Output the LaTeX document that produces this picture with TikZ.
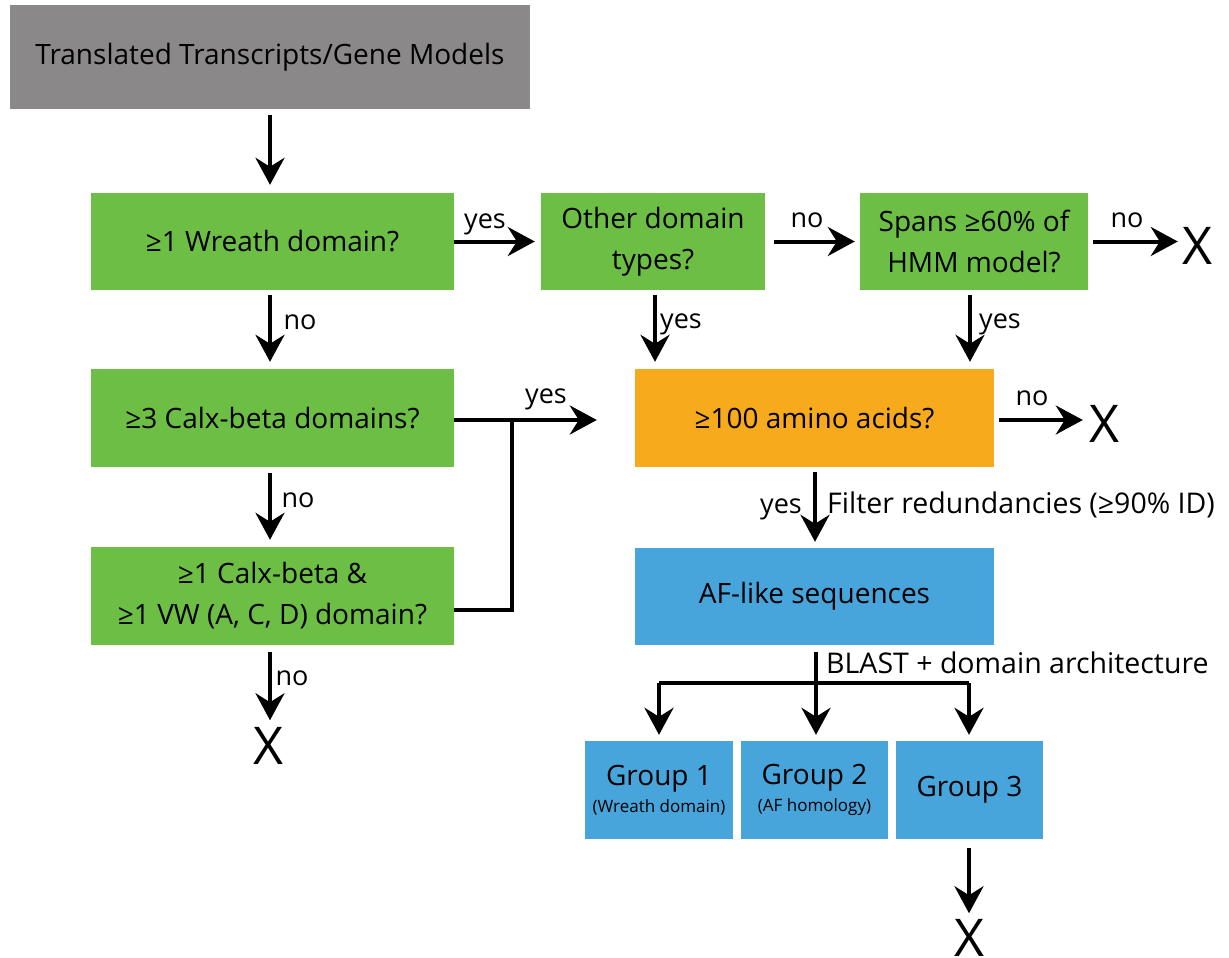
\documentclass[tikz,border=0pt]{standalone}
\usepackage{fontspec}
\setmainfont{Open Sans}
\usetikzlibrary{arrows.meta}
\definecolor{cgray}{RGB}{138,136,136}
\definecolor{cgreen}{RGB}{108,190,69}
\definecolor{corange}{RGB}{246,170,28}
\definecolor{cblue}{RGB}{72,165,219}
\begin{document}
\begin{tikzpicture}[x=1pt,y=-1pt,
  box/.style={inner sep=0pt, draw=none, align=center, font=\fontsize{28}{41}\selectfont},
  grn/.style={box, fill=cgreen},
  lbl/.style={inner sep=0pt, anchor=base, font=\fontsize{27}{30}\selectfont},
  xnode/.style={inner sep=0pt, font=\fontsize{52}{52}\selectfont},
  arr/.style={line width=4pt, -{Stealth[length=27pt,width=29pt,inset=9pt]}},
  ln/.style={line width=4pt}]
\useasboundingbox (0,0) rectangle (1229,958);
% boxes
\node[box, fill=cgray, minimum width=520pt, minimum height=104pt] (gray) at (270,57) {Translated Transcripts/Gene Models};
\node[grn, minimum width=363pt, minimum height=97pt] (g1) at (272.5,241.5) {≥1 Wreath domain?};
\node[grn, minimum width=224pt, minimum height=97pt] (oth) at (653,241.5) {Other domain\\types?};
\node[grn, minimum width=228pt, minimum height=97pt] (spans) at (974,241.5) {Spans ≥60\% of\\HMM model?};
\node[grn, minimum width=363pt, minimum height=98pt] (g4) at (272.5,418) {≥3 Calx-beta domains?};
\node[grn, minimum width=363pt, minimum height=98pt] (g5) at (272.5,596) {≥1 Calx-beta \&\\≥1 VW (A, C, D) domain?};
\node[box, fill=corange, minimum width=359pt, minimum height=98pt] (orng) at (814.5,418) {≥100 amino acids?};
\node[box, fill=cblue, minimum width=359pt, minimum height=97pt] (af) at (814.5,596.5) {AF-like sequences};
\node[box, fill=cblue, minimum width=148pt, minimum height=98pt] (gr1) at (659,790) {Group 1\\[-14pt]{\fontsize{17}{20}\selectfont (Wreath domain)}};
\node[box, fill=cblue, minimum width=147pt, minimum height=98pt] (gr2) at (814.5,790) {Group 2\\[-14pt]{\fontsize{17}{20}\selectfont (AF homology)}};
\node[box, fill=cblue, minimum width=147pt, minimum height=98pt] (gr3) at (969.5,790) {Group 3};
% X ends
\node[xnode] (x1) at (1197,246) {X};
\node[xnode] (x2) at (1104,424) {X};
\node[xnode] (x3) at (269,746) {X};
\node[xnode] (x4) at (969,938) {X};
% helper columns
\coordinate (c655) at (655,0);
\coordinate (c970) at (970,0);
\coordinate (c969) at (969,0);
\coordinate (r420) at (0,420);
% connectors
\draw[arr] ([yshift=-6pt]gray.south) -- ([yshift=8pt]gray.south |- g1.north);
\draw[arr] (g1.east) -- ([xshift=-6pt]oth.west);
\draw[arr] ([xshift=9pt]oth.east) -- ([xshift=-5pt]spans.west);
\draw[arr] ([xshift=5pt]spans.east) -- ([xshift=-4pt]x1.west |- spans.east);
\draw[arr] ([xshift=-2.5pt,yshift=-5pt]g1.south) -- ([xshift=-2.5pt,yshift=7pt]g1.south |- g4.north);
\draw[arr] ([yshift=-5pt]c655 |- oth.south) -- ([yshift=7pt]c655 |- orng.north);
\draw[arr] ([yshift=-5pt]c970 |- spans.south) -- ([yshift=7pt]c970 |- orng.north);
\coordinate (j) at (512,420);
\draw[ln] ([yshift=-14pt]g5.east) -| (j);
\draw[arr] ([yshift=-2pt]g4.east) -- ([xshift=-38pt]orng.west |- j);
\draw[arr] ([xshift=5pt,yshift=-2pt]orng.east) -- ([xshift=-6pt]x2.west |- r420);
\draw[arr] ([xshift=-2.5pt,yshift=-6pt]g4.south) -- ([xshift=-2.5pt,yshift=7pt]g4.south |- g5.north);
\draw[arr] ([xshift=-2.5pt,yshift=-7pt]g5.south) -- ([xshift=-2.5pt,yshift=7pt]g5.south |- x3.north);
\draw[arr] ([xshift=0.5pt,yshift=-5pt]orng.south) -- ([xshift=0.5pt,yshift=6pt]af.north);
\coordinate (br) at (816,683);
\coordinate (brr) at (969,683);
\draw[ln] ([xshift=1.5pt,yshift=-7pt]af.south) -- (br);
\draw[ln] (gr1.north |- br) -- (brr);
\draw[arr] (gr1.north |- br) -- ([yshift=6pt]gr1.north);
\draw[arr] (br) -- ([yshift=6pt]br |- gr2.north);
\draw[arr] (brr) -- ([yshift=6pt]brr |- gr3.north);
\draw[arr] ([yshift=-9pt]c969 |- gr3.south) -- ([yshift=6pt]c969 |- x4.north);
% labels
\node[lbl] (l1) at (485,228) {yes};
\node[lbl] (l2) at (807,227) {no};
\node[lbl] (l3) at (1127,227) {no};
\node[lbl] (l4) at (300,329) {no};
\node[lbl] (l5) at (681,328) {yes};
\node[lbl] (l6) at (1000,328) {yes};
\node[lbl] (l7) at (546,403) {yes};
\node[lbl] (l8) at (1032,405) {no};
\node[lbl] (l9) at (298,507) {no};
\node[lbl] (l10) at (292,685) {no};
\node[lbl] (l11) at (781,513) {yes};
\node[lbl, anchor=base west, font=\fontsize{28.5}{30}\selectfont] (l12) at (827,513) {Filter redundancies (≥90\% ID)};
\node[lbl, anchor=base west, font=\fontsize{28.5}{30}\selectfont] (l13) at (826,673) {BLAST + domain architecture};
\end{tikzpicture}
\end{document}
